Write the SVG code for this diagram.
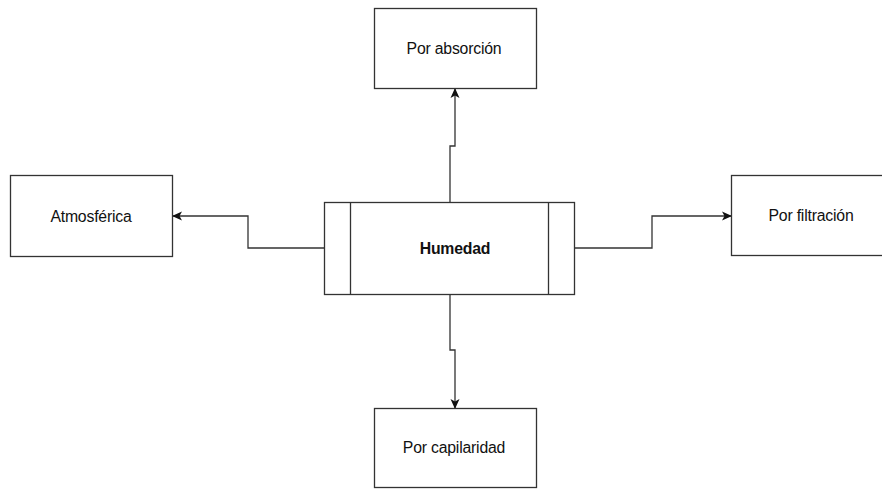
<svg xmlns="http://www.w3.org/2000/svg" width="882" height="489" viewBox="0 0 882 489">
  <defs>
    <style>
      .box { fill: #ffffff; stroke: #333333; stroke-width: 1.3; }
      .edge { fill: none; stroke: #333333; stroke-width: 1.3; }
      .lbl { font-family: "Liberation Sans", Arial, sans-serif; font-size: 15.8px; fill: #111111; text-anchor: middle; dominant-baseline: central; letter-spacing: -0.2px; }
      .bold { font-weight: bold; }
    </style>
    <marker id="arrow" viewBox="0 0 10 10" refX="9" refY="5" markerWidth="10" markerHeight="10" markerUnits="userSpaceOnUse" orient="auto">
      <path d="M0,0.5 L10,5 L0,9.5 L2.5,5 Z" fill="#111111"/>
    </marker>
  </defs>
  <rect width="882" height="489" fill="#ffffff"/>

  <g id="connectors">
    <path class="edge" d="M450,202 V146 H455 V89" marker-end="url(#arrow)"/>
    <path class="edge" d="M324,248 H248 V216 H173" marker-end="url(#arrow)"/>
    <path class="edge" d="M575,248 H652 V216 H731" marker-end="url(#arrow)"/>
    <path class="edge" d="M450,294 V350 H455 V408" marker-end="url(#arrow)"/>
  </g>

  <g id="humedad">
    <rect class="box" x="324.5" y="202.5" width="250" height="92"/>
    <line class="edge" x1="350.5" y1="202.5" x2="350.5" y2="294.5"/>
    <line class="edge" x1="548.5" y1="202.5" x2="548.5" y2="294.5"/>
    <text class="lbl bold" x="455" y="248">Humedad</text>
  </g>

  <g id="absorcion">
    <rect class="box" x="374.5" y="8.5" width="162" height="80"/>
    <text class="lbl" x="454" y="48">Por absorción</text>
  </g>

  <g id="atmosferica">
    <rect class="box" x="10.5" y="175.5" width="162" height="81"/>
    <text class="lbl" x="91" y="216">Atmosférica</text>
  </g>

  <g id="filtracion">
    <rect class="box" x="731.5" y="175.5" width="162" height="80"/>
    <text class="lbl" x="811" y="215">Por filtración</text>
  </g>

  <g id="capilaridad">
    <rect class="box" x="374.5" y="408.5" width="162" height="79"/>
    <text class="lbl" x="454" y="447">Por capilaridad</text>
  </g>
</svg>
